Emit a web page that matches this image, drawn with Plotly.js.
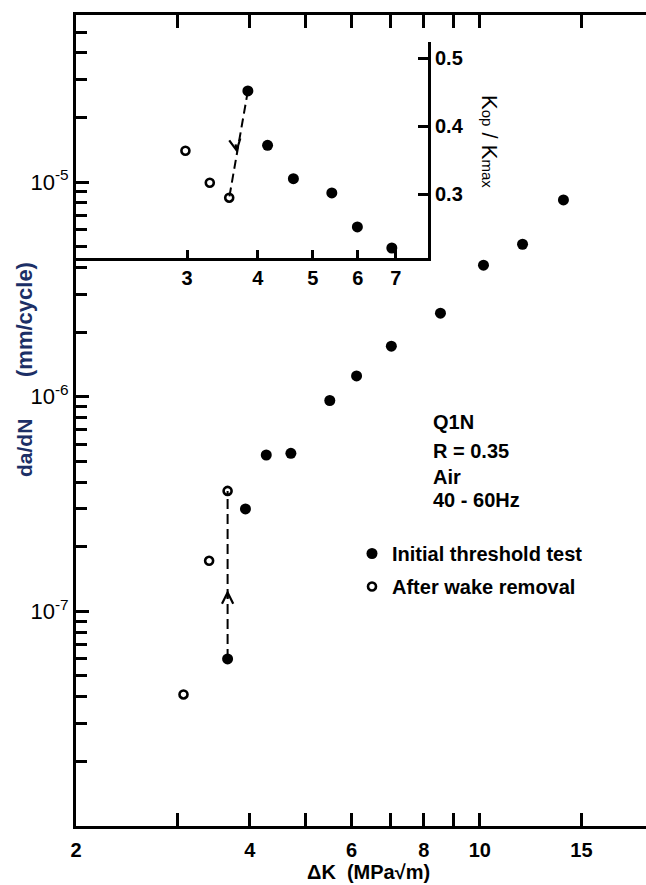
<!DOCTYPE html>
<html>
<head>
<meta charset="utf-8">
<script src="https://cdn.plot.ly/plotly-3.0.1.min.js"></script>
<style>html,body{margin:0;padding:0;background:#fff;}</style>
</head>
<body>
<div id="chart" style="width:646px;height:885px;"></div>
<script>
// Fatigue crack growth rate vs. stress intensity range
const dkInitial = [3.66, 3.93, 4.27, 4.71, 5.50, 6.12, 7.03, 8.55, 10.15, 11.86, 13.96];
const rateInitial = [6.0e-8, 3.0e-7, 5.35e-7, 5.45e-7, 9.6e-7, 1.25e-6, 1.72e-6, 2.45e-6, 4.1e-6, 5.13e-6, 8.25e-6];
const dkWake = [3.07, 3.40, 3.66];
const rateWake = [4.1e-8, 1.72e-7, 3.64e-7];

// Closure level Kop/Kmax (inset)
const kopDkInitial = [3.84, 4.16, 4.62, 5.40, 5.99, 6.89];
const kopInitial = [0.452, 0.372, 0.323, 0.302, 0.252, 0.221];
const kopDkWake = [2.98, 3.29, 3.56];
const kopWake = [0.364, 0.317, 0.295];

const seriesNames = ['Initial threshold test', 'After wake removal'];
const testNotes = ['Q1N', 'R = 0.35', 'Air', '40 - 60Hz'];

const xTickVals = [2, 3, 4, 5, 6, 7, 8, 9, 10, 15];
const xTickText = ['2', '', '4', '', '6', '', '8', '', '10', '15'];
const yTickVals = [1e-7, 1e-6, 1e-5];
const yTickText = ['10<sup>-7</sup>', '10<sup>-6</sup>', '10<sup>-5</sup>'];
const insetXTickVals = [3, 4, 5, 6, 7];
const insetYTickVals = [0.3, 0.4, 0.5];
const insetYTickText = ['0.3', '0.4', '0.5'];

// ---- page geometry ----
const W = 646, H = 885, ML = 76, MR = 0, MT = 15, MB = 59;
const plotW = W - ML - MR, plotH = H - MT - MB;
const px = v => (v - ML) / plotW;        // pixel column -> paper x
const py = v => (H - MB - v) / plotH;    // pixel row -> paper y

const FONT = 'Liberation Sans, Arial, sans-serif';
const NAVY = '#1c2f66';
const lg = Math.log10;

// minor ticks on the log rate axis
const minorY = [];
for (let d = -8; d <= -5; d++) {
  for (let m = 2; m <= 9; m++) minorY.push(m * Math.pow(10, d));
}

const traces = [
  // wake-removal jump at the first threshold point
  {
    x: [dkInitial[0], dkWake[2]], y: [rateInitial[0], rateWake[2]],
    xaxis: 'x', yaxis: 'y', mode: 'lines', showlegend: false, hoverinfo: 'skip',
    line: {color: '#000', width: 2, dash: '10px,5px'}
  },
  {
    x: dkInitial, y: rateInitial, xaxis: 'x', yaxis: 'y', mode: 'markers',
    name: seriesNames[0], legendgroup: 'a',
    marker: {symbol: 'circle', size: 11, color: '#000'}
  },
  {
    x: dkWake, y: rateWake, xaxis: 'x', yaxis: 'y', mode: 'markers',
    name: seriesNames[1], legendgroup: 'b',
    marker: {symbol: 'circle-open', size: 8, color: '#000', line: {width: 2.6, color: '#000'}}
  },
  // inset
  {
    x: [kopDkInitial[0], kopDkWake[2]], y: [kopInitial[0], kopWake[2]],
    xaxis: 'x2', yaxis: 'y2', mode: 'lines', showlegend: false, hoverinfo: 'skip',
    line: {color: '#000', width: 2, dash: '9px,5px'}
  },
  {
    x: kopDkInitial, y: kopInitial, xaxis: 'x2', yaxis: 'y2', mode: 'markers',
    showlegend: false, marker: {symbol: 'circle', size: 11, color: '#000'}
  },
  {
    x: kopDkWake, y: kopWake, xaxis: 'x2', yaxis: 'y2', mode: 'markers',
    showlegend: false,
    marker: {symbol: 'circle-open', size: 8, color: '#000', line: {width: 2.6, color: '#000'}}
  }
];

// arrowheads placed part-way along each dashed jump
const fMain = 0.41, fInset = 0.58;
const mainHeadX = lg(dkInitial[0]);
const mainHeadY = lg(rateInitial[0]) + fMain * (lg(rateWake[2]) - lg(rateInitial[0]));
const insetHeadX = lg(kopDkInitial[0]) + fInset * (lg(kopDkWake[2]) - lg(kopDkInitial[0]));
const insetHeadY = kopInitial[0] + fInset * (kopWake[2] - kopInitial[0]);

const noteRows = [422, 451, 477, 500];
const small = s => '<span style="font-size:15px">' + s + '</span>';

const annotations = [
  {xref: 'x', yref: 'y', x: mainHeadX, y: mainHeadY, text: '', showarrow: true,
   ax: 0, ay: 10, arrowhead: 5, arrowsize: 1, arrowwidth: 2.2, arrowcolor: '#000'},
  {xref: 'x2', yref: 'y2', x: insetHeadX, y: insetHeadY, text: '', showarrow: true,
   ax: -1.7, ay: -10, arrowhead: 5, arrowsize: 1, arrowwidth: 2.2, arrowcolor: '#000'},
  // axis titles
  {xref: 'paper', yref: 'paper', x: px(368), y: py(884), text: '\u0394K\u00a0\u00a0(MPa\u221am)',
   showarrow: false, xanchor: 'center', yanchor: 'bottom', borderpad: 0,
   font: {family: FONT, size: 20, weight: 'bold', color: '#000'}},
  {xref: 'paper', yref: 'paper', x: px(24), y: py(448), text: 'da/dN', textangle: -90,
   showarrow: false, xanchor: 'center', yanchor: 'middle',
   font: {family: FONT, size: 21, weight: 'bold', color: NAVY}},
  {xref: 'paper', yref: 'paper', x: px(24), y: py(320), text: '(mm/cycle)', textangle: -90,
   showarrow: false, xanchor: 'center', yanchor: 'middle',
   font: {family: FONT, size: 22, weight: 'bold', color: NAVY}},
  {xref: 'paper', yref: 'paper', x: px(489), y: py(141),
   text: 'K' + small('op') + ' / K' + small('max'),
   textangle: 90, showarrow: false, xanchor: 'center', yanchor: 'middle',
   font: {family: FONT, size: 22, color: '#000'}}
].concat(testNotes.map((t, i) => ({
  xref: 'paper', yref: 'paper', x: px(431), y: py(noteRows[i]), text: t,
  showarrow: false, xanchor: 'left', yanchor: 'middle',
  font: {family: FONT, size: 20, weight: 'bold', color: '#000'}
})));

const axisLine = {showline: true, linecolor: '#000', linewidth: 3, showgrid: false, zeroline: false,
                  tickcolor: '#000', tickwidth: 3};

const layout = {
  width: W, height: H,
  margin: {l: ML, r: MR, t: MT, b: MB, pad: 0},
  paper_bgcolor: '#fff', plot_bgcolor: 'rgba(0,0,0,0)',
  font: {family: FONT, color: '#000'},
  showlegend: true,
  legend: {x: px(352), y: py(534), xanchor: 'left', yanchor: 'top',
           traceorder: 'grouped', tracegroupgap: 4, itemwidth: 30,
           bgcolor: 'rgba(0,0,0,0)', borderwidth: 0,
           font: {family: FONT, size: 20, weight: 'bold', color: '#000'}},
  xaxis: Object.assign({}, axisLine, {
    type: 'log', range: [lg(2), lg(19.4)], domain: [0, 1], anchor: 'y',
    tickmode: 'array', tickvals: xTickVals, ticktext: xTickText,
    ticks: 'inside', ticklen: 13, mirror: 'allticks', ticklabelstandoff: 4,
    tickfont: {family: FONT, size: 20, weight: 'bold', color: '#000'}
  }),
  yaxis: Object.assign({}, axisLine, {
    type: 'log', range: [-8, lg(6e-5)], domain: [0, 1], anchor: 'x',
    tickmode: 'array', tickvals: yTickVals, ticktext: yTickText,
    ticks: 'inside', ticklen: 13,
    minor: {tickmode: 'array', tickvals: minorY, ticks: 'inside', ticklen: 11, tickwidth: 3, tickcolor: '#000'},
    tickfont: {family: FONT, size: 22, color: '#000'}
  }),
  // short inward ticks along the right edge
  yaxis3: {
    type: 'log', range: [-8, lg(6e-5)], overlaying: 'y', side: 'right', anchor: 'x',
    showline: false, showgrid: false, zeroline: false, showticklabels: false,
    tickmode: 'array', tickvals: yTickVals.concat(minorY), ticks: 'inside', ticklen: 6,
    tickwidth: 3, tickcolor: '#000'
  },
  xaxis2: Object.assign({}, axisLine, {
    type: 'log', range: [lg(1.911), lg(7.98)], domain: [0, px(428)], anchor: 'y2',
    tickmode: 'array', tickvals: insetXTickVals, ticks: 'inside', ticklen: 8,
    tickfont: {family: FONT, size: 20, weight: 'bold', color: '#000'}
  }),
  yaxis2: Object.assign({}, axisLine, {
    range: [0.2063, 0.524], domain: [py(258), py(42)], anchor: 'x2', side: 'right',
    tickmode: 'array', tickvals: insetYTickVals, ticktext: insetYTickText,
    ticks: 'inside', ticklen: 10,
    tickfont: {family: FONT, size: 20, weight: 'bold', color: '#000'}
  }),
  annotations: annotations
};

Plotly.newPlot('chart', traces, layout, {staticPlot: true, displayModeBar: false});
</script>
</body>
</html>
